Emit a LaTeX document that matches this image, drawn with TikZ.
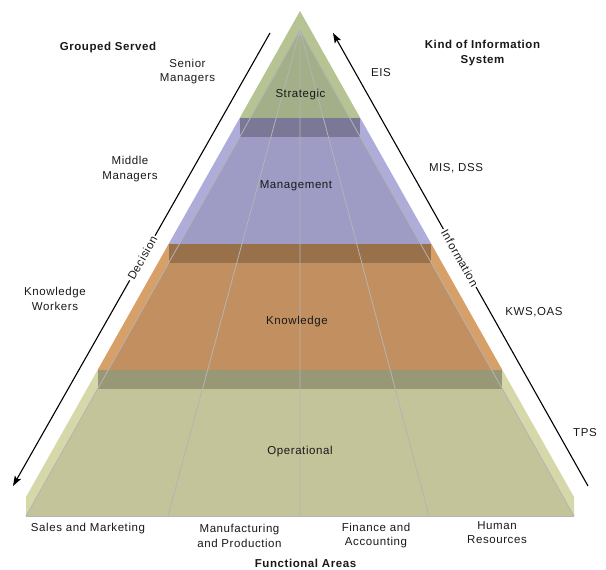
\documentclass[tikz,border=0pt]{standalone}
\usepackage{fontspec}
\setmainfont{Liberation Sans}[LetterSpace=5]
\usetikzlibrary{arrows.meta}
\definecolor{txt}{RGB}{25,25,25}
\definecolor{sgL}{RGB}{181,196,146}
\definecolor{sgM}{RGB}{163,175,136}
\definecolor{mgL}{RGB}{174,173,217}
\definecolor{mgM}{RGB}{158,156,196}
\definecolor{mgB}{RGB}{122,120,150}
\definecolor{knL}{RGB}{214,160,104}
\definecolor{knM}{RGB}{194,144,96}
\definecolor{knB}{RGB}{152,112,74}
\definecolor{opL}{RGB}{215,216,170}
\definecolor{opM}{RGB}{196,196,155}
\definecolor{opB}{RGB}{152,152,119}
\definecolor{grid}{RGB}{180,180,180}
\begin{document}
\begin{tikzpicture}[x=1pt,y=-1pt,
  basetxt/.style={font=\fontsize{11.5}{14.8}\selectfont, text=txt, align=center, inner sep=0pt},
  lbl/.style={basetxt, yshift=-1.5pt},
  ttl/.style={lbl, font=\fontsize{11.5}{14.8}\selectfont\bfseries},
  axislbl/.style={basetxt, inner sep=1.5pt},
  arr/.style={draw=black, line width=1.1pt},
  tip/.style={-{Stealth[length=10pt,width=7pt,inset=2pt]}},
  gridline/.style={draw=grid, line width=0.8pt}]
\useasboundingbox (0,0) rectangle (606,570);

% ---- Strategic layer
\fill[sgL] (300,11) -- (239.7,118) -- (360.3,118) -- cycle;
\fill[sgM] (300,30) -- (250.4,118) -- (349.6,118) -- cycle;
% ---- Management layer
\fill[mgL] (239.7,118) -- (168.6,244) -- (431.4,244) -- (360.3,118) -- cycle;
\fill[mgM] (239.7,137) -- (179.35,244) -- (420.65,244) -- (360.3,137) -- cycle;
\fill[mgB] (239.7,118) rectangle (360.3,137);
% ---- Knowledge layer
\fill[knL] (168.6,244) -- (97.6,370) -- (502.4,370) -- (431.4,244) -- cycle;
\fill[knM] (168.6,263) -- (108.3,370) -- (491.7,370) -- (431.4,263) -- cycle;
\fill[knB] (168.6,244) rectangle (431.4,263);
% ---- Operational layer
\fill[opL] (97.6,370) -- (26,497) -- (26,516) -- (574,516) -- (574,497) -- (502.4,370) -- cycle;
\fill[opM] (97.6,389) -- (26,516) -- (574,516) -- (502.4,389) -- cycle;
\fill[opB] (97.6,370) rectangle (502.4,389);

% ---- grid lines of the front face
\coordinate (ap) at (300,30);
\coordinate (b1) at (26,516);
\coordinate (b2) at (168,516);
\coordinate (b3) at (300,516);
\coordinate (b4) at (429,516);
\coordinate (b5) at (574,516);
\draw[gridline] (ap) -- (b1) (ap) -- (b2) (ap) -- (b3) (ap) -- (b4) (ap) -- (b5);
\draw[gridline] (b1) -- (b5);

% ---- layer labels
\node[lbl] (strat) at (300.5,93) {Strategic};
\node[lbl] (mgmt) at (296,184) {Management};
\node[lbl] (know) at (297,320) {Knowledge};
\node[lbl] (oper) at (300,450) {Operational};

% ---- left side labels
\node[ttl] (grp) at (108,46) {Grouped Served};
\node[lbl] (sen) at (187.5,70) {Senior\\Managers};
\node[lbl] (mid) at (130,167.5) {Middle\\Managers};
\node[lbl] (kw) at (55,297) {Knowledge\\Workers};

% ---- right side labels
\node[ttl] (kind) at (482.5,51.5) {Kind of Information\\System};
\node[lbl] (eis) at (381,71.5) {EIS};
\node[lbl] (mis) at (456,166.5) {MIS, DSS};
\node[lbl] (kws) at (534,311) {KWS,OAS};
\node[lbl] (tps) at (585,431.5) {TPS};

% ---- functional areas
\node[lbl] (sal) at (88,527) {Sales and Marketing};
\node[lbl] (man) at (239.5,534) {Manufacturing\\and Production};
\node[lbl] (fin) at (376,534) {Finance and\\Accounting};
\node[lbl] (hum) at (497,531) {Human\\Resources};
\node[ttl] (fun) at (305.5,562) {Functional Areas};

% ---- Decision arrow
\coordinate (dtop) at (270,33);
\coordinate (dtip) at (13,486);
\node[axislbl, rotate=60.4] (dec) at (142.4,258) {Decision};
\draw[arr] (dtop) -- (dec);
\draw[arr, tip] (dec) -- (dtip);

% ---- Information arrow
\coordinate (itip) at (333,33);
\coordinate (ibot) at (588,486);
\node[axislbl, rotate=-60.6] (inf) at (459.7,258) {Information};
\draw[arr] (ibot) -- (inf);
\draw[arr, tip] (inf) -- (itip);
\end{tikzpicture}
\end{document}
